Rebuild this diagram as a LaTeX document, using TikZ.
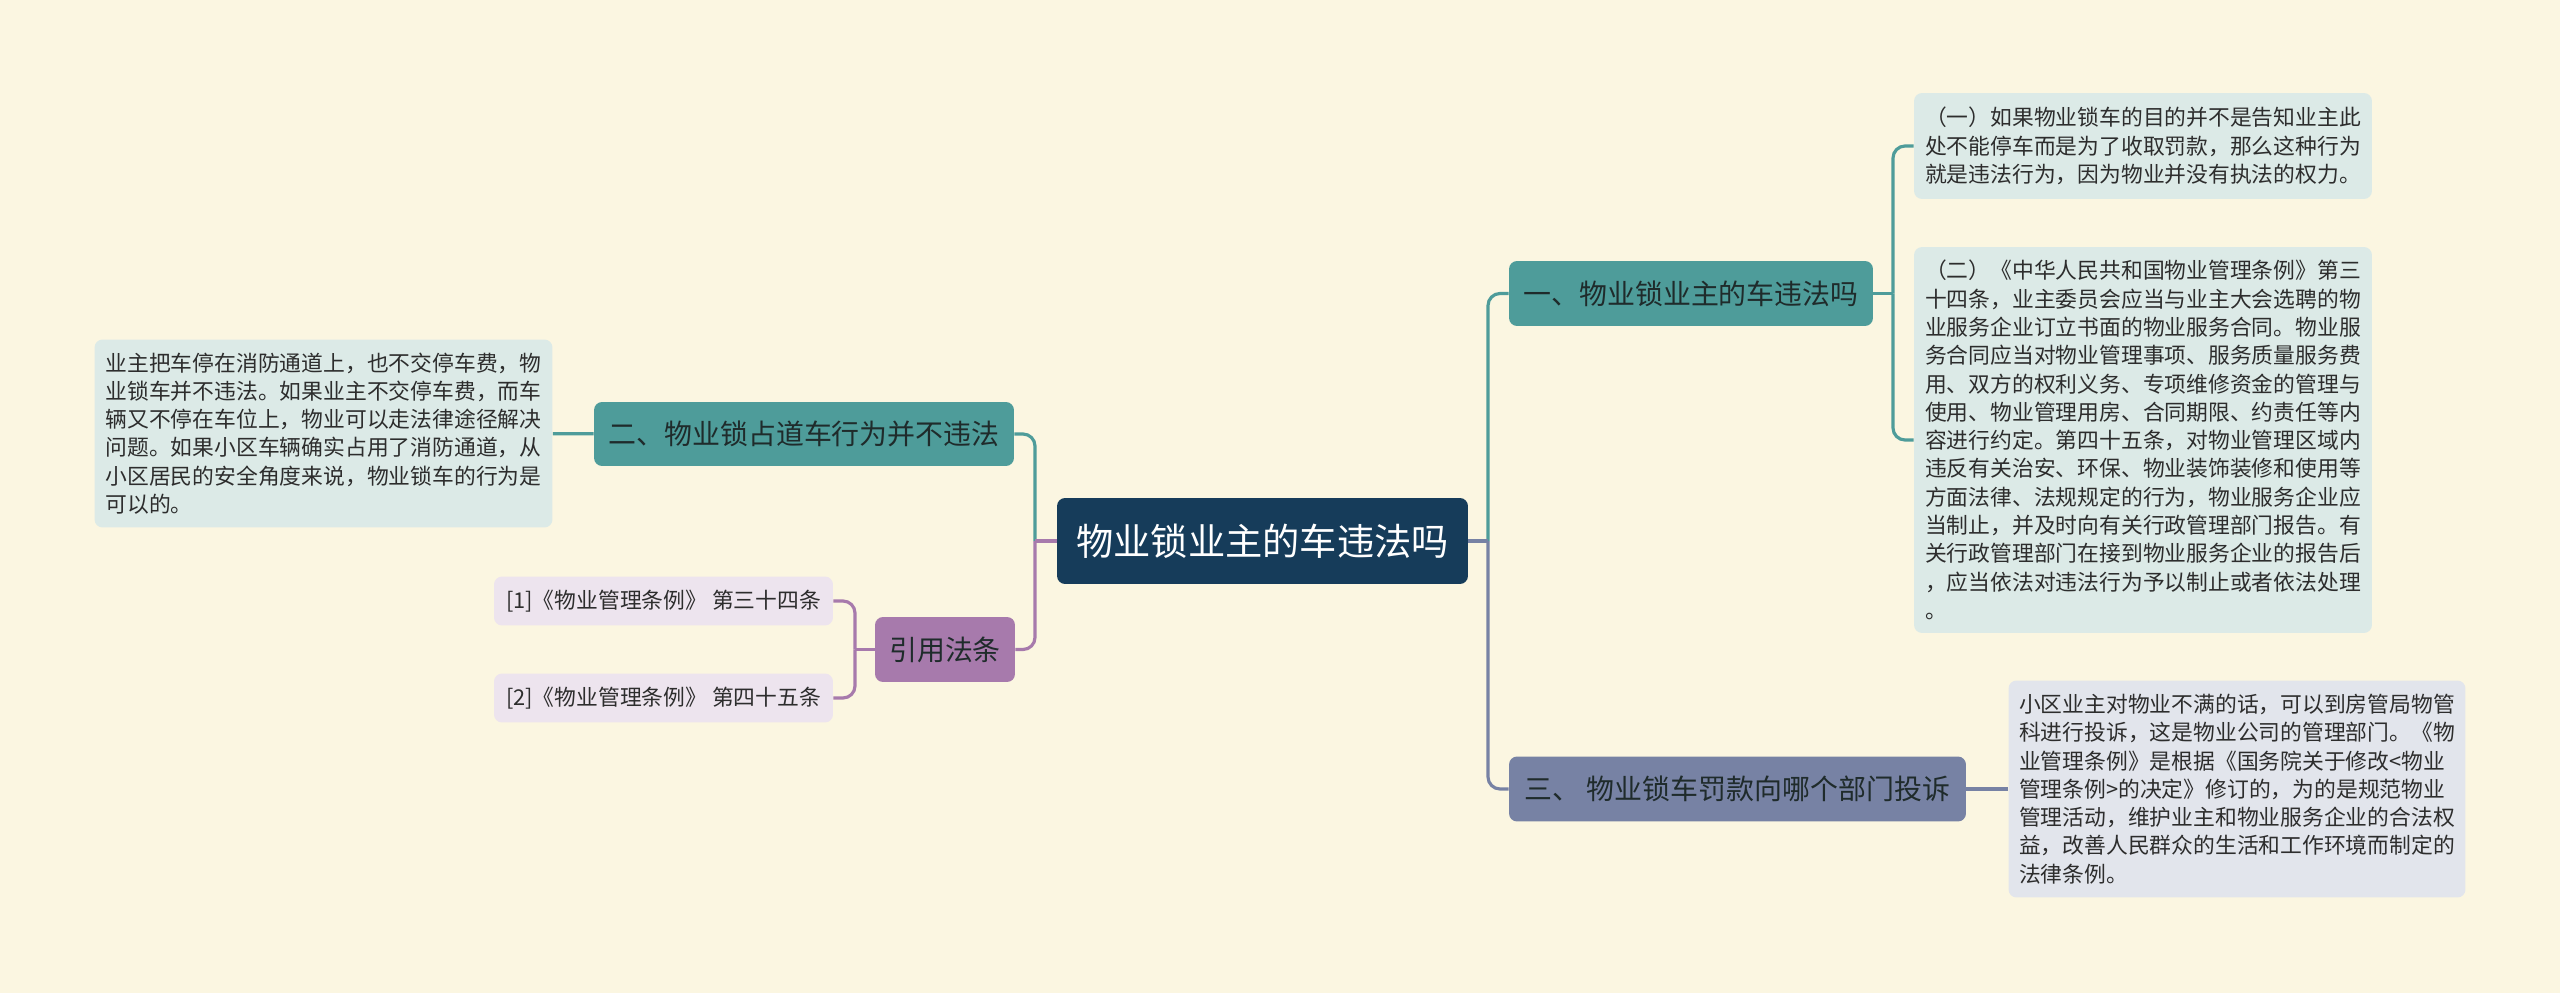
\documentclass[tikz,border=0pt]{standalone}
\usepackage{fontspec}
\setmainfont{Noto Sans CJK SC}
\definecolor{bgcol}{HTML}{FBF6E1}
\definecolor{rootcol}{HTML}{163C5A}
\definecolor{tealc}{HTML}{4E9C9A}
\definecolor{slatec}{HTML}{7782A4}
\definecolor{purplec}{HTML}{A77AAC}
\definecolor{leafteal}{HTML}{DCEAE7}
\definecolor{leafslate}{HTML}{E2E5EC}
\definecolor{leafpurple}{HTML}{EDE4EE}
\definecolor{subtext}{HTML}{1F2B2B}
\definecolor{leaftext}{HTML}{2D2D2D}
\begin{document}
\begin{tikzpicture}[x=0.02cm,y=-0.02cm,
  box/.style={rounded corners=0.16cm,inner sep=0pt,align=center},
  topic/.style={box,fill=rootcol,text=white,font=\fontsize{21.2pt}{26pt}\selectfont,minimum width=8.22cm,minimum height=1.72cm},
  sub/.style={box,text=subtext,font=\fontsize{15.9pt}{20pt}\selectfont,minimum height=1.3cm},
  leaf/.style={box,align=left,text=leaftext,font=\fontsize{12.4pt}{16.1pt}\selectfont,minimum width=9.16cm},
  cite/.style={box,fill=leafpurple,text=leaftext,font=\fontsize{12.4pt}{15pt}\selectfont,minimum width=6.78cm,minimum height=0.98cm},
  link/.style={line width=1.8pt,rounded corners=0.24cm}]
\fill[bgcol](0,0)rectangle(2560,993);

\node[topic](root) at (1262.5,541){物业锁业主的车违法吗};
\node[sub,fill=tealc,minimum width=7.28cm](b1) at (1691,293.5){一、物业锁业主的车违法吗};
\node[sub,fill=slatec,minimum width=9.14cm](b3) at (1737.5,789){三、 物业锁车罚款向哪个部门投诉};
\node[sub,fill=tealc,minimum width=8.4cm,minimum height=1.28cm](b2) at (804,434){二、物业锁占道车行为并不违法};
\node[sub,fill=purplec,minimum width=2.8cm](laws) at (945,649.5){引用法条};

\node[leaf,fill=leafteal,minimum height=2.12cm](l1a) at (2143,146){（一）如果物业锁车的目的并不是告知业主此\\处不能停车而是为了收取罚款，那么这种行为\\就是违法行为，因为物业并没有执法的权力。};
\node[leaf,fill=leafteal,minimum height=7.72cm](l1b) at (2143,440){（二）《中华人民共和国物业管理条例》第三\\十四条，业主委员会应当与业主大会选聘的物\\业服务企业订立书面的物业服务合同。物业服\\务合同应当对物业管理事项、服务质量服务费\\用、双方的权利义务、专项维修资金的管理与\\使用、物业管理用房、合同期限、约责任等内\\容进行约定。第四十五条，对物业管理区域内\\违反有关治安、环保、物业装饰装修和使用等\\方面法律、法规规定的行为，物业服务企业应\\当制止，并及时向有关行政管理部门报告。有\\关行政管理部门在接到物业服务企业的报告后\\，应当依法对违法行为予以制止或者依法处理\\。};
\node[leaf,fill=leafslate,minimum width=9.14cm,minimum height=4.34cm](l3) at (2237,789){小区业主对物业不满的话，可以到房管局物管\\科进行投诉，这是物业公司的管理部门。《物\\业管理条例》是根据《国务院关于修改<物业\\管理条例>的决定》修订的，为的是规范物业\\管理活动，维护业主和物业服务企业的合法权\\益，改善人民群众的生活和工作环境而制定的\\法律条例。};
\node[leaf,fill=leafteal,minimum height=3.76cm](l2) at (323.5,433.5){业主把车停在消防通道上，也不交停车费，物\\业锁车并不违法。如果业主不交停车费，而车\\辆又不停在车位上，物业可以走法律途径解决\\问题。如果小区车辆确实占用了消防通道，从\\小区居民的安全角度来说，物业锁车的行为是\\可以的。};
\node[cite](r1) at (663.5,601){[1]《物业管理条例》 第三十四条};
\node[cite](r2) at (663.5,698){[2]《物业管理条例》 第四十五条};

\coordinate(rj) at (1488,541);
\coordinate(lj) at (1035,541);
\coordinate(j1) at (1893,293.5);
\coordinate(jl) at (855,649.5);

\draw[link,tealc](rj)|-(b1);
\draw[link,tealc](b1)--(j1);
\draw[link,tealc](j1)|-(l1a);
\draw[link,tealc](j1)|-(l1b);
\draw[link,slatec](root)--(rj);
\draw[link,slatec](rj)|-(b3);
\draw[link,slatec](b3)--(l3);

\draw[link,tealc](lj)|-(b2);
\draw[link,tealc](b2)--(l2);
\draw[link,purplec](root)--(lj);
\draw[link,purplec](lj)|-(laws);
\draw[link,purplec](laws)--(jl);
\draw[link,purplec](jl)|-(r1);
\draw[link,purplec](jl)|-(r2);
\end{tikzpicture}
\end{document}
